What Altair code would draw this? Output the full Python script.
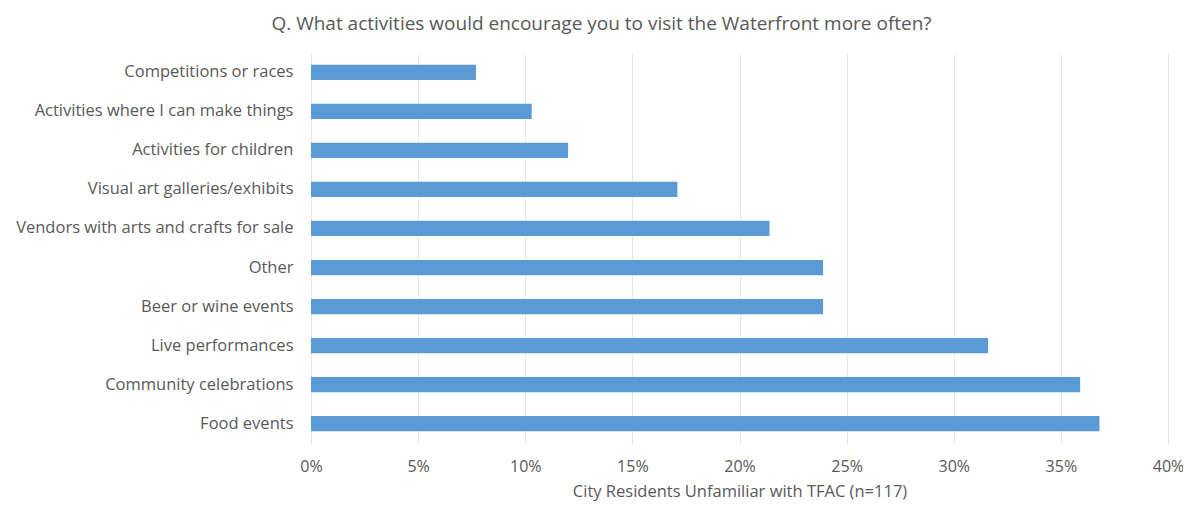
import altair as alt
import pandas as pd

categories = [
    "Competitions or races",
    "Activities where I can make things",
    "Activities for children",
    "Visual art galleries/exhibits",
    "Vendors with arts and crafts for sale",
    "Other",
    "Beer or wine events",
    "Live performances",
    "Community celebrations",
    "Food events",
]
values = [0.077, 0.103, 0.120, 0.171, 0.214, 0.239, 0.239, 0.316, 0.359, 0.368]
x_ticks = [0, 0.05, 0.10, 0.15, 0.20, 0.25, 0.30, 0.35, 0.40]

df = pd.DataFrame({"category": categories, "value": values})

FONT = "Open Sans"
GREY = "#595959"

chart = (
    alt.Chart(df)
    .mark_bar(color="#5B9BD5")
    .encode(
        x=alt.X(
            "value:Q",
            scale=alt.Scale(domain=[0, 0.40], nice=False),
            axis=alt.Axis(
                values=x_ticks,
                format=".0%",
                title="City Residents Unfamiliar with TFAC (n=117)",
                titleFont=FONT,
                titleFontSize=16.5,
                titleFontWeight="normal",
                titleColor=GREY,
                titlePadding=9,
                labelFont=FONT,
                labelFontSize=16,
                labelColor=GREY,
                labelPadding=15,
                labelFlush=False,
                domain=False,
                ticks=False,
                grid=True,
                gridColor="#E6E6E6",
            ),
        ),
        y=alt.Y(
            "category:N",
            sort=categories,
            scale=alt.Scale(paddingInner=0.61, paddingOuter=0.3),
            axis=alt.Axis(
                title=None,
                labelFont=FONT,
                labelFontSize=16.5,
                labelColor=GREY,
                labelPadding=18,
                domain=False,
                ticks=False,
                grid=False,
                labelLimit=400,
            ),
        ),
    )
    .properties(
        width=857,
        height=390,
        title=alt.TitleParams(
            "Q. What activities would encourage you to visit the Waterfront more often?",
            font=FONT,
            fontSize=19,
            fontWeight="normal",
            color=GREY,
            anchor="middle",
            dx=-138,
            offset=19,
        ),
        autosize=alt.AutoSizeParams(type="none"),
        padding={"left": 303, "top": 45, "right": 15, "bottom": 64},
    )
    .configure_view(stroke=None)
)

chart.save("out.html", embed_options={"renderer": "svg", "actions": False})
